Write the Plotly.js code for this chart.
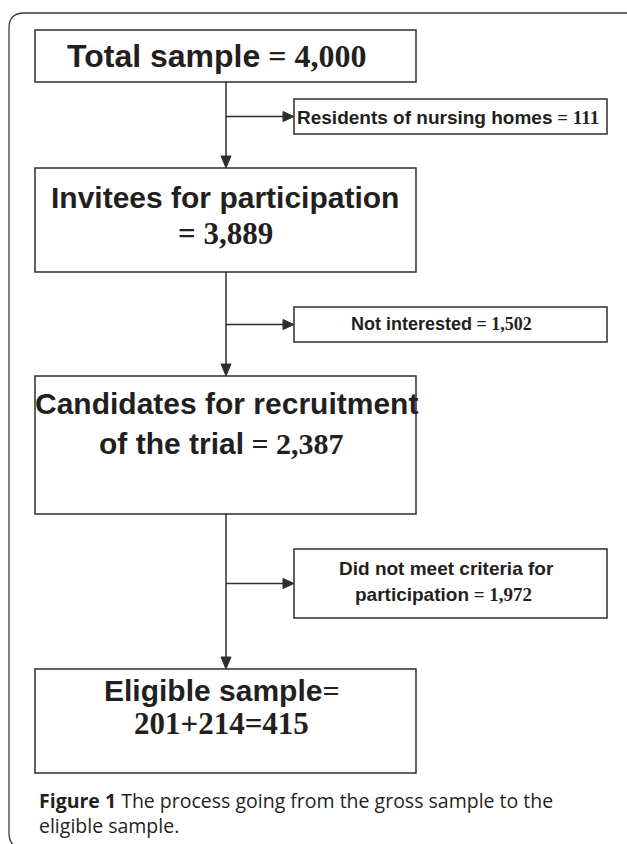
<!DOCTYPE html>
<html>
<head>
<meta charset="utf-8">
<script src="https://cdn.plot.ly/plotly-3.0.1.min.js"></script>
<style>html,body{margin:0;padding:0;background:#fff;}#chart{width:627px;height:844px;}</style>
</head>
<body>
<div id="chart"></div>
<script>
// ---- data ----
const stageLabelLines = [["Total sample"], ["Invitees for participation"], ["Candidates for recruitment", "of the trial"], ["Eligible sample"]];
const stageCounts = ["4,000", "3,889", "2,387", "201+214=415"];
const exclusionLabelLines = [["Residents of nursing homes"], ["Not interested"], ["Did not meet criteria for", "participation"]];
const exclusionCounts = ["111", "1,502", "1,972"];
const captionBold = "Figure 1";
const captionLines = ["The process going from the gross sample to the", "eligible sample."];

// ---- layout (pixel geometry) ----
const mainX0 = 35, mainX1 = 416, stemX = 226;
const mainBoxesY = [[30, 82], [168, 272], [376, 514], [669, 773]];
const sideX0 = 294, sideX1 = 607;
const sideBoxesY = [[99, 134], [307, 342], [549, 618]];
const ink = "#231f20", lineCol = "#2e2e2e";
const SANS = "Liberation Sans, Arial, sans-serif";
const SERIF = "Liberation Serif, Times New Roman, serif";
const serif = s => `<span style="font-family:${SERIF}">${s}</span>`;

// text lines for each main box: [html, y, x, size]
const mainText = [
  [[`${stageLabelLines[0][0]}${serif(" = " + stageCounts[0])}`, 56, 216, 32]],
  [[stageLabelLines[1][0], 197, 225, 30], [serif("= " + stageCounts[1]), 233, 225, 31]],
  [[stageLabelLines[2][0], 403, 226, 30], [`${stageLabelLines[2][1]}${serif(" = " + stageCounts[2])}`, 443, 221, 30]],
  [[`${stageLabelLines[3][0]}${serif("=")}`, 690, 222, 30], [serif(stageCounts[3]), 723, 221, 31]]
];
const sideText = [
  [[`${exclusionLabelLines[0][0]}${serif(" = " + exclusionCounts[0])}`, 117, 448, 19]],
  [[`${exclusionLabelLines[1][0]}${serif(" = " + exclusionCounts[1])}`, 324, 441, 18]],
  [[exclusionLabelLines[2][0], 568, 446, 19], [`${exclusionLabelLines[2][1]}${serif(" = " + exclusionCounts[2])}`, 594, 443, 19]]
];

const shapes = [];
const annotations = [];

// outer frame (rounded at left corners)
shapes.push({type: "path", xref: "x", yref: "y",
  path: "M 660,13 L 24,13 Q 9,13 9,28 L 9,833 Q 9,848 24,848",
  line: {color: "#3a3a3a", width: 1.3}});

mainBoxesY.forEach(([y0, y1], i) => {
  shapes.push({type: "rect", xref: "x", yref: "y", x0: mainX0, x1: mainX1, y0: y0, y1: y1,
    line: {color: lineCol, width: 1.5}, fillcolor: "rgba(0,0,0,0)"});
  mainText[i].forEach(([t, y, x, sz]) => annotations.push({xref: "x", yref: "y", x: x, y: y,
    text: `<b>${t}</b>`, showarrow: false, xanchor: "center", yanchor: "middle",
    font: {family: SANS, size: sz, color: ink}}));
});

sideBoxesY.forEach(([y0, y1], i) => {
  shapes.push({type: "rect", xref: "x", yref: "y", x0: sideX0, x1: sideX1, y0: y0, y1: y1,
    line: {color: lineCol, width: 1.5}, fillcolor: "rgba(0,0,0,0)"});
  sideText[i].forEach(([t, y, x, sz]) => annotations.push({xref: "x", yref: "y", x: x, y: y,
    text: `<b>${t}</b>`, showarrow: false, xanchor: "center", yanchor: "middle",
    font: {family: SANS, size: sz, color: ink}}));
  // branch arrow
  const ym = (y0 + y1) / 2;
  shapes.push({type: "line", xref: "x", yref: "y", x0: stemX, x1: sideX0 - 8, y0: ym, y1: ym,
    line: {color: lineCol, width: 1.5}});
  shapes.push({type: "path", xref: "x", yref: "y",
    path: `M ${sideX0},${ym} L ${sideX0 - 11},${ym - 5} L ${sideX0 - 11},${ym + 5} Z`,
    fillcolor: lineCol, line: {color: lineCol, width: 1}});
});

// vertical stems with arrowheads
for (let i = 0; i < mainBoxesY.length - 1; i++) {
  const yTop = mainBoxesY[i][1], yBot = mainBoxesY[i + 1][0];
  shapes.push({type: "line", xref: "x", yref: "y", x0: stemX, x1: stemX, y0: yTop, y1: yBot - 8,
    line: {color: lineCol, width: 1.5}});
  shapes.push({type: "path", xref: "x", yref: "y",
    path: `M ${stemX},${yBot} L ${stemX - 5},${yBot - 12} L ${stemX + 5},${yBot - 12} Z`,
    fillcolor: lineCol, line: {color: lineCol, width: 1}});
}

// caption
const CAP = "Open Sans, Noto Sans, sans-serif";
annotations.push({xref: "x", yref: "y", x: 37, y: 800, xanchor: "left", yanchor: "middle", showarrow: false,
  text: `<b>${captionBold}</b> ${captionLines[0]}`, font: {family: CAP, size: 19.5, color: ink}});
annotations.push({xref: "x", yref: "y", x: 37, y: 825, xanchor: "left", yanchor: "middle", showarrow: false,
  text: captionLines[1], font: {family: CAP, size: 19.5, color: ink}});

const layout = {
  width: 627, height: 844,
  margin: {l: 0, r: 0, t: 0, b: 0},
  paper_bgcolor: "#ffffff", plot_bgcolor: "#ffffff",
  showlegend: false,
  xaxis: {range: [0, 627], visible: false, fixedrange: true},
  yaxis: {range: [844, 0], visible: false, fixedrange: true},
  shapes: shapes,
  annotations: annotations
};

Plotly.newPlot("chart", [], layout, {staticPlot: true, displayModeBar: false});
</script>
</body>
</html>
